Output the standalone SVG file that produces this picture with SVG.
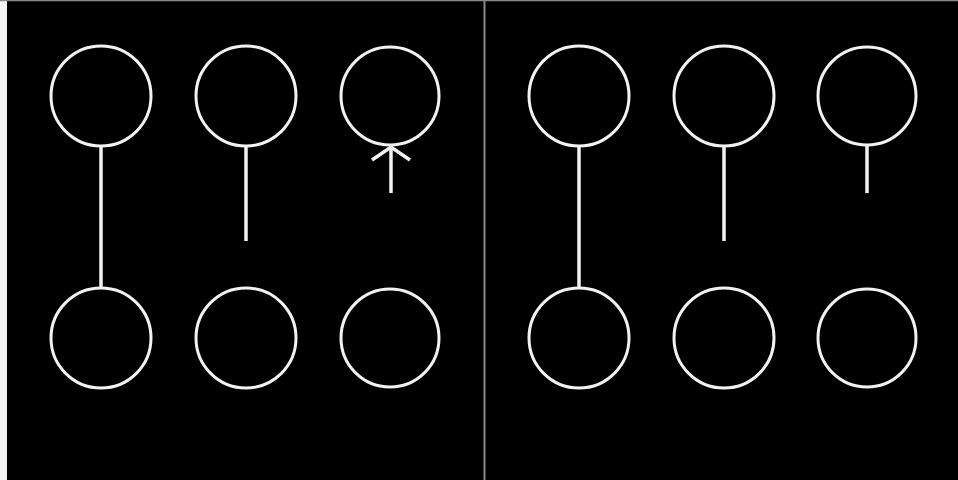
<svg xmlns="http://www.w3.org/2000/svg" width="958" height="480" viewBox="0 0 958 480">
<style>
.n{fill:none;stroke:#f2f2f2;stroke-width:3}
.c{stroke:#f2f2f2;stroke-width:3.5;fill:none}
</style>
<rect x="0" y="0" width="958" height="480" fill="#000"/>
<rect x="0" y="0" width="7" height="480" fill="#f4f4f4"/>
<line x1="0" y1="0.5" x2="958" y2="0.5" stroke="#888" stroke-width="1.5"/>
<line x1="484.5" y1="0" x2="484.5" y2="480" stroke="#8a8a8a" stroke-width="2"/>
<g id="L1"><circle class="n" cx="101" cy="96" r="50"/></g>
<g id="L2"><circle class="n" cx="246" cy="96" r="50"/></g>
<g id="L3"><circle class="n" cx="390" cy="96" r="49"/></g>
<g id="L4"><circle class="n" cx="101" cy="338" r="50"/></g>
<g id="L5"><circle class="n" cx="246" cy="338" r="50"/></g>
<g id="L6"><circle class="n" cx="390" cy="338" r="49"/></g>
<g id="R1"><circle class="n" cx="579" cy="96" r="50"/></g>
<g id="R2"><circle class="n" cx="724" cy="96" r="50"/></g>
<g id="R3"><circle class="n" cx="867" cy="96" r="49"/></g>
<g id="R4"><circle class="n" cx="579" cy="338" r="50"/></g>
<g id="R5"><circle class="n" cx="724" cy="338" r="50"/></g>
<g id="R6"><circle class="n" cx="867" cy="338" r="49"/></g>
<g id="connectors">
<line class="c" x1="101" y1="146" x2="101" y2="288"/>
<line class="c" x1="246" y1="146" x2="246" y2="241"/>
<line class="c" x1="391" y1="147" x2="391" y2="193"/>
<polyline class="c" points="372,160 391,147 410,160"/>
<line class="c" x1="579" y1="146" x2="579" y2="288"/>
<line class="c" x1="724" y1="146" x2="724" y2="241"/>
<line class="c" x1="867" y1="145" x2="867" y2="193"/>
</g>
</svg>
